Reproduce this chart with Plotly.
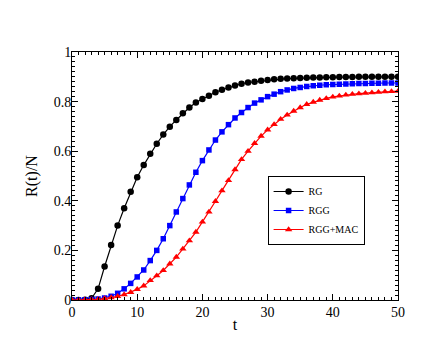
import plotly.graph_objects as go

t = list(range(0, 51))

rg = [0, 0, 0.001, 0.007, 0.045, 0.135, 0.222, 0.30, 0.37, 0.436,
      0.495, 0.544, 0.59, 0.63, 0.667, 0.699, 0.726, 0.753, 0.776, 0.796,
      0.81, 0.824, 0.838, 0.848, 0.857, 0.865, 0.872, 0.877, 0.88, 0.884,
      0.887, 0.89, 0.892, 0.893, 0.894, 0.895, 0.896, 0.897, 0.897, 0.898,
      0.898, 0.899, 0.899, 0.899, 0.9, 0.9, 0.9, 0.9, 0.9, 0.9, 0.9]

rgg = [0, 0, 0.001, 0.002, 0.004, 0.008, 0.015, 0.027, 0.045, 0.067,
       0.093, 0.121, 0.159, 0.2, 0.247, 0.30, 0.355, 0.409, 0.464, 0.515,
       0.562, 0.605, 0.645, 0.678, 0.707, 0.734, 0.756, 0.776, 0.794, 0.807,
       0.82, 0.83, 0.84, 0.847, 0.853, 0.857, 0.861, 0.864, 0.866, 0.868,
       0.869, 0.87, 0.871, 0.872, 0.873, 0.873, 0.874, 0.874, 0.875, 0.875, 0.875]

rgg_mac = [0, 0, 0.001, 0.002, 0.003, 0.006, 0.01, 0.015, 0.022, 0.031,
           0.043, 0.057, 0.079, 0.098, 0.119, 0.146, 0.173, 0.206, 0.239, 0.274,
           0.315, 0.355, 0.398, 0.441, 0.482, 0.526, 0.567, 0.60, 0.632, 0.661,
           0.686, 0.708, 0.729, 0.746, 0.762, 0.776, 0.789, 0.798, 0.806, 0.813,
           0.819, 0.823, 0.827, 0.83, 0.832, 0.834, 0.836, 0.838, 0.84, 0.841, 0.842]

serif = "Liberation Serif"

fig = go.Figure()
fig.add_trace(go.Scatter(x=t, y=rg, name="RG", mode="lines+markers",
                         line=dict(color="black", width=1.2),
                         marker=dict(symbol="circle", size=6.5, color="black")))
fig.add_trace(go.Scatter(x=t, y=rgg, name="RGG", mode="lines+markers",
                         line=dict(color="blue", width=1.2),
                         marker=dict(symbol="square", size=5.5, color="blue")))
fig.add_trace(go.Scatter(x=t, y=rgg_mac, name="RGG+MAC", mode="lines+markers",
                         line=dict(color="red", width=1.2),
                         marker=dict(symbol="triangle-up", size=6.5, color="red")))

axis_common = dict(showgrid=False, zeroline=False, showline=True,
                   linecolor="black", linewidth=1, mirror="allticks",
                   ticks="inside", ticklen=6, tickcolor="black",
                   tickfont=dict(family=serif, size=14, color="black"))

fig.update_xaxes(range=[0, 50], dtick=10, ticklabelstandoff=-1,
                 minor=dict(dtick=1, ticks="inside", ticklen=3, tickcolor="black"),
                 title=dict(text="t", font=dict(family=serif, size=16, color="black"), standoff=0),
                 **axis_common)
fig.update_yaxes(range=[0, 1], dtick=0.2, tickformat="~g", ticklabelstandoff=-3,
                 minor=dict(dtick=0.02, ticks="inside", ticklen=3, tickcolor="black"),
                 title=dict(text="R(t)/N", font=dict(family=serif, size=16, color="black"), standoff=12),
                 **axis_common)

# page body adds an 8px offset, so margins are trimmed to keep the plot area in place
fig.update_layout(
    width=448, height=346,
    margin=dict(l=64, r=58, t=44, b=54),
    plot_bgcolor="white", paper_bgcolor="white",
    legend=dict(x=0.6, y=0.5, xanchor="left", yanchor="top",
                bordercolor="black", borderwidth=1, bgcolor="white",
                font=dict(family=serif, size=10, color="black"),
                tracegroupgap=0, itemwidth=30),
)

fig.write_html("out.html")
